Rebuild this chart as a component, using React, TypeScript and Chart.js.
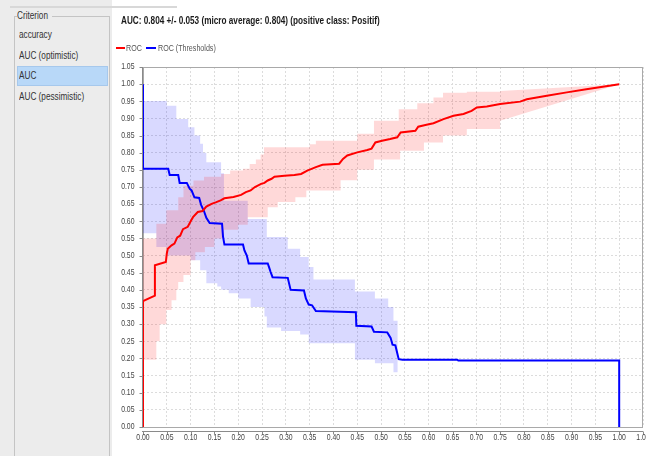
import { useEffect, useRef } from "react";
import { Chart, registerables } from "chart.js";

Chart.register(...registerables);

// ---------- data ----------
const axisTicks = [
  0.0, 0.05, 0.1, 0.15, 0.2, 0.25, 0.3, 0.35, 0.4, 0.45, 0.5, 0.55, 0.6, 0.65,
  0.7, 0.75, 0.8, 0.85, 0.9, 0.95, 1.0, 1.05,
];

const seriesNames = ["ROC", "ROC (Thresholds)"];
const titleText =
  "AUC: 0.804 +/- 0.053 (micro average: 0.804) (positive class: Positif)";
const criteria = ["accuracy", "AUC (optimistic)", "AUC", "AUC (pessimistic)"];
const selectedCriterion = "AUC";
const panelTitle = "Criterion";

// ROC mean curve (red)
const rocX = [
  0, 0, 0.025, 0.025, 0.048, 0.05, 0.052, 0.06, 0.066, 0.072, 0.078, 0.084,
  0.094, 0.101, 0.105, 0.115, 0.125, 0.133, 0.144, 0.154, 0.163, 0.171, 0.19,
  0.206, 0.216, 0.226, 0.235, 0.248, 0.255, 0.262, 0.27, 0.276, 0.297, 0.318,
  0.332, 0.345, 0.363, 0.377, 0.412, 0.42, 0.429, 0.45, 0.471, 0.48, 0.488,
  0.502, 0.519, 0.534, 0.541, 0.572, 0.578, 0.593, 0.61, 0.631, 0.652, 0.673,
  0.69, 0.701, 0.722, 0.75, 0.792, 0.806, 0.848, 0.89, 0.931, 1.0,
];
const rocY = [
  0, 0.367, 0.383, 0.472, 0.481, 0.506, 0.52, 0.53, 0.535, 0.553, 0.558, 0.577,
  0.584, 0.602, 0.612, 0.627, 0.63, 0.643, 0.651, 0.656, 0.661, 0.667, 0.671,
  0.677, 0.685, 0.69, 0.7, 0.709, 0.712, 0.719, 0.724, 0.73, 0.733, 0.735,
  0.738, 0.748, 0.758, 0.765, 0.768, 0.782, 0.792, 0.801, 0.808, 0.812, 0.83,
  0.835, 0.84, 0.845, 0.859, 0.864, 0.876, 0.881, 0.886, 0.898, 0.908, 0.913,
  0.922, 0.932, 0.935, 0.942, 0.949, 0.956, 0.966, 0.976, 0.985, 1.0,
];

// ROC (Thresholds) curve (blue)
const thrX = [
  0, 0, 0.053, 0.056, 0.074, 0.077, 0.092, 0.098, 0.102, 0.108, 0.118, 0.122,
  0.128, 0.133, 0.14, 0.166, 0.168, 0.171, 0.21, 0.213, 0.218, 0.222, 0.262,
  0.265, 0.268, 0.272, 0.304, 0.31, 0.338, 0.342, 0.348, 0.355, 0.363, 0.447,
  0.448, 0.48, 0.485, 0.513, 0.52, 0.524, 0.53, 0.537, 0.545, 0.66, 0.662, 1.0,
  1.0,
];
const thrY = [
  1.0, 0.753, 0.753, 0.735, 0.735, 0.712, 0.712, 0.695, 0.69, 0.67, 0.668,
  0.648, 0.63, 0.61, 0.595, 0.593, 0.556, 0.532, 0.532, 0.515, 0.5, 0.477,
  0.477, 0.465, 0.452, 0.437, 0.435, 0.4, 0.398, 0.375, 0.357, 0.355, 0.338,
  0.335, 0.295, 0.293, 0.278, 0.276, 0.26, 0.24, 0.238, 0.198, 0.196, 0.196,
  0.194, 0.194, 0.0,
];

// ROC band (red): interval starts, upper / lower values; last start runs straight to the tail point
const redBandX = [
  0, 0.028, 0.035, 0.049, 0.06, 0.07, 0.074, 0.085, 0.1, 0.106, 0.11, 0.128,
  0.13, 0.15, 0.164, 0.17, 0.183, 0.2, 0.21, 0.22, 0.224, 0.237, 0.247, 0.254,
  0.262, 0.283, 0.32, 0.343, 0.35, 0.363, 0.415, 0.45, 0.485, 0.537, 0.54,
  0.576, 0.59, 0.61, 0.63, 0.68, 0.75,
];
const redBandHi = [
  0.55, 0.593, 0.593, 0.632, 0.632, 0.632, 0.67, 0.704, 0.704, 0.719, 0.719,
  0.73, 0.73, 0.73, 0.738, 0.738, 0.748, 0.748, 0.753, 0.753, 0.767, 0.78,
  0.795, 0.816, 0.816, 0.816, 0.816, 0.816, 0.825, 0.835, 0.835, 0.855, 0.893,
  0.927, 0.927, 0.944, 0.944, 0.961, 0.975, 0.978, 0.98,
];
const redBandLo = [
  0.196, 0.25, 0.3, 0.341, 0.37, 0.4, 0.423, 0.443, 0.486, 0.486, 0.51, 0.51,
  0.525, 0.55, 0.55, 0.575, 0.575, 0.59, 0.59, 0.612, 0.612, 0.612, 0.612,
  0.612, 0.641, 0.656, 0.67, 0.69, 0.69, 0.69, 0.72, 0.75, 0.78, 0.78, 0.806,
  0.806, 0.83, 0.83, 0.85, 0.869, 0.893,
];
const redBandTail = [1.0, 1.0];

// ROC (Thresholds) band (blue): interval edges, upper / lower values
const blueBandX = [
  0, 0.028, 0.05, 0.07, 0.095, 0.1, 0.108, 0.12, 0.126, 0.133, 0.156, 0.164,
  0.17, 0.18, 0.2, 0.22, 0.226, 0.255, 0.26, 0.29, 0.304, 0.33, 0.348, 0.358,
  0.445, 0.487, 0.515, 0.526, 0.535,
];
const blueBandHi = [
  0.951, 0.951, 0.937, 0.898, 0.874, 0.874, 0.85, 0.826, 0.8, 0.772, 0.772,
  0.74, 0.66, 0.66, 0.66, 0.607, 0.607, 0.607, 0.554, 0.554, 0.52, 0.496,
  0.467, 0.43, 0.395, 0.375, 0.35, 0.31,
];
const blueBandLo = [
  0.565, 0.525, 0.5, 0.5, 0.5, 0.486, 0.486, 0.457, 0.457, 0.419, 0.41, 0.4,
  0.4, 0.39, 0.375, 0.375, 0.35, 0.322, 0.29, 0.28, 0.28, 0.27, 0.244, 0.244,
  0.196, 0.186, 0.186, 0.16,
];

// ---------- helpers ----------
type Pt = { x: number; y: number };

function toPoints(xs: number[], ys: number[]): Pt[] {
  return xs.map((x, i) => ({ x, y: ys[i] }));
}

function stepEdge(xs: number[], ys: number[], tail?: number[]): Pt[] {
  const pts: Pt[] = [];
  const n = ys.length;
  for (let i = 0; i < n; i++) {
    pts.push({ x: xs[i], y: ys[i] });
    const last = tail && i === n - 1;
    if (!last && i + 1 < xs.length) pts.push({ x: xs[i + 1], y: ys[i] });
  }
  if (tail) pts.push({ x: tail[0], y: tail[1] });
  return pts;
}

const SANS = '"Liberation Sans", Arial, sans-serif';
const SQUEEZE = 0.82; // the reference uses a narrow face

const fmt = (v: number) => Number(v).toFixed(2);

const axisPlugin = {
  id: "jfreeAxes",
  beforeDatasetsDraw(chart: any) {
    const { ctx, chartArea: a, scales } = chart;
    const xs = scales.x;
    const ys = scales.y;
    ctx.save();
    ctx.lineWidth = 1;
    // plot outline
    ctx.strokeStyle = "#a9a9a9";
    ctx.strokeRect(
      Math.round(a.left) + 0.5,
      Math.round(a.top) + 0.5,
      Math.round(a.right - a.left) - 1,
      Math.round(a.bottom - a.top)
    );
    // y axis with ticks
    ctx.strokeStyle = "#8a8a8a";
    ctx.beginPath();
    const yl = Math.round(a.left) - 0.5;
    ctx.moveTo(yl, a.top);
    ctx.lineTo(yl, a.bottom + 1);
    for (const v of axisTicks) {
      const py = Math.round(ys.getPixelForValue(v)) + 0.5;
      ctx.moveTo(yl - 3, py);
      ctx.lineTo(yl, py);
    }
    // x axis, offset below the plot
    const xb = Math.round(a.bottom) + 4.5;
    ctx.moveTo(a.left - 1, xb);
    ctx.lineTo(a.right, xb);
    for (const v of axisTicks) {
      const px = Math.round(xs.getPixelForValue(v)) + 0.5;
      ctx.moveTo(px, xb);
      ctx.lineTo(px, xb + 3);
    }
    ctx.stroke();
    ctx.restore();
  },
  afterDraw(chart: any) {
    const { ctx, chartArea: a, scales } = chart;
    const xs = scales.x;
    const ys = scales.y;
    ctx.save();
    ctx.font = `8.4px ${SANS}`;
    ctx.fillStyle = "#444";
    ctx.textBaseline = "middle";
    ctx.textAlign = "center";
    for (const v of axisTicks) {
      const px = xs.getPixelForValue(v);
      ctx.save();
      ctx.translate(px, a.bottom + 11);
      ctx.scale(SQUEEZE, 1);
      ctx.fillText(fmt(v), 0, 0);
      ctx.restore();
    }
    ctx.textAlign = "right";
    for (const v of axisTicks) {
      const py = ys.getPixelForValue(v);
      ctx.save();
      ctx.translate(a.left - 8.5, py);
      ctx.scale(SQUEEZE, 1);
      ctx.fillText(fmt(v), 0, 0);
      ctx.restore();
    }
    ctx.restore();
  },
};

function ChartCanvas() {
  const ref = useRef<HTMLCanvasElement | null>(null);

  useEffect(() => {
    if (!ref.current) return;
    const grid = { color: "#dcdcdc", drawTicks: false, lineWidth: 1 };
    const chart = new Chart(ref.current, {
      type: "line",
      data: {
        datasets: [
          {
            label: seriesNames[0],
            data: toPoints(rocX, rocY),
            borderColor: "#ff0000",
            borderWidth: 2,
            pointRadius: 0,
            fill: false,
            tension: 0,
          },
          {
            label: seriesNames[1],
            data: toPoints(thrX, thrY),
            borderColor: "#0000ff",
            borderWidth: 2,
            pointRadius: 0,
            fill: false,
            tension: 0,
          },
          {
            label: "ROC lower",
            data: stepEdge(redBandX, redBandLo, redBandTail),
            borderColor: "transparent",
            borderWidth: 0,
            pointRadius: 0,
            fill: false,
          },
          {
            label: "ROC upper",
            data: stepEdge(redBandX, redBandHi, redBandTail),
            borderColor: "transparent",
            borderWidth: 0,
            pointRadius: 0,
            backgroundColor: "rgba(255,0,0,0.15)",
            fill: 2,
          },
          {
            label: "ROC (Thresholds) lower",
            data: stepEdge(blueBandX, blueBandLo),
            borderColor: "transparent",
            borderWidth: 0,
            pointRadius: 0,
            fill: false,
          },
          {
            label: "ROC (Thresholds) upper",
            data: stepEdge(blueBandX, blueBandHi),
            borderColor: "transparent",
            borderWidth: 0,
            pointRadius: 0,
            backgroundColor: "rgba(0,0,255,0.15)",
            fill: 4,
          },
        ],
      },
      options: {
        animation: false,
        responsive: false,
        maintainAspectRatio: false,
        layout: { padding: { left: 0, right: 3, top: 67, bottom: 0 } },
        plugins: {
          legend: { display: false },
          tooltip: { enabled: false },
          title: { display: false },
        },
        scales: {
          x: {
            type: "linear",
            min: 0,
            max: 1.05,
            afterBuildTicks: (s: any) => {
              s.ticks = axisTicks.map((v) => ({ value: v }));
            },
            afterFit: (s: any) => {
              s.height = 29;
              s.paddingLeft = 0;
              s.paddingRight = 0;
            },
            ticks: { display: false, autoSkip: false },
            grid,
            border: { display: false, dash: [2, 2] },
          },
          y: {
            type: "linear",
            min: 0,
            max: 1.05,
            afterBuildTicks: (s: any) => {
              s.ticks = axisTicks.map((v) => ({ value: v }));
            },
            afterFit: (s: any) => {
              s.width = 31;
              s.paddingTop = 0;
              s.paddingBottom = 0;
            },
            ticks: { display: false, autoSkip: false },
            grid,
            border: { display: false, dash: [2, 2] },
          },
        },
      } as any,
      plugins: [axisPlugin],
    });
    return () => chart.destroy();
  }, []);

  return (
    <canvas
      ref={ref}
      width={534}
      height={456}
      style={{ position: "absolute", left: 112, top: 0, width: 534, height: 456 }}
    />
  );
}

function Narrow(props: { children: any; style?: any }) {
  return (
    <span
      style={{
        display: "inline-block",
        transform: `scaleX(${SQUEEZE})`,
        transformOrigin: "left center",
        whiteSpace: "nowrap",
        ...props.style,
      }}
    >
      {props.children}
    </span>
  );
}

export default function App() {
  const text = { fontFamily: SANS, color: "#333" } as const;
  return (
    <div
      style={{
        position: "absolute",
        left: 0,
        top: 0,
        width: 646,
        height: 456,
        overflow: "hidden",
        background: "#ffffff",
      }}
    >
      <ChartCanvas />
      {/* left criterion panel */}
      <div
        style={{
          position: "absolute",
          left: 0,
          top: 0,
          width: 112,
          height: 456,
          background: "#ececec",
        }}
      >
        <div
          style={{
            position: "absolute",
            left: 14,
            top: 16,
            width: 96,
            height: 460,
            border: "1px solid #c4c4c4",
            boxSizing: "border-box",
          }}
        />
        <div
          style={{
            ...text,
            position: "absolute",
            left: 17,
            top: 9,
            fontSize: 10,
            lineHeight: "13px",
            background: "#ececec",
            paddingRight: 2,
            width: 33,
            overflow: "hidden",
          }}
        >
          <Narrow>{panelTitle}</Narrow>
        </div>
        {criteria.map((c, i) => {
          const sel = c === selectedCriterion;
          return (
            <div
              key={c}
              style={{
                ...text,
                position: "absolute",
                left: 17,
                top: 25 + i * 20.7,
                width: 91,
                height: 20,
                boxSizing: "border-box",
                fontSize: 10,
                lineHeight: "18px",
                paddingLeft: 1,
                background: sel ? "#b8d8f8" : "transparent",
                border: sel ? "1px solid #a6c8ec" : "1px solid transparent",
              }}
            >
              <Narrow>{c}</Narrow>
            </div>
          );
        })}
      </div>
      <div
        style={{
          position: "absolute",
          left: 10,
          top: 6,
          width: 167,
          height: 2,
          background: "#d8d8d8",
        }}
      />
      {/* title */}
      <div
        style={{
          ...text,
          position: "absolute",
          left: 121,
          top: 15,
          fontSize: 10,
          fontWeight: "bold",
          color: "#1a1a1a",
          lineHeight: "12px",
        }}
      >
        <Narrow>{titleText}</Narrow>
      </div>
      {/* legend */}
      <div style={{ position: "absolute", left: 116, top: 47, width: 9, height: 2, background: "#ff0000" }} />
      <div
        style={{ ...text, position: "absolute", left: 126, top: 42, fontSize: 8.7, lineHeight: "12px", color: "#555" }}
      >
        <Narrow>{seriesNames[0]}</Narrow>
      </div>
      <div style={{ position: "absolute", left: 146, top: 47, width: 10, height: 2, background: "#0000ff" }} />
      <div
        style={{ ...text, position: "absolute", left: 158, top: 42, fontSize: 8.7, lineHeight: "12px", color: "#555" }}
      >
        <Narrow>{seriesNames[1]}</Narrow>
      </div>
    </div>
  );
}
